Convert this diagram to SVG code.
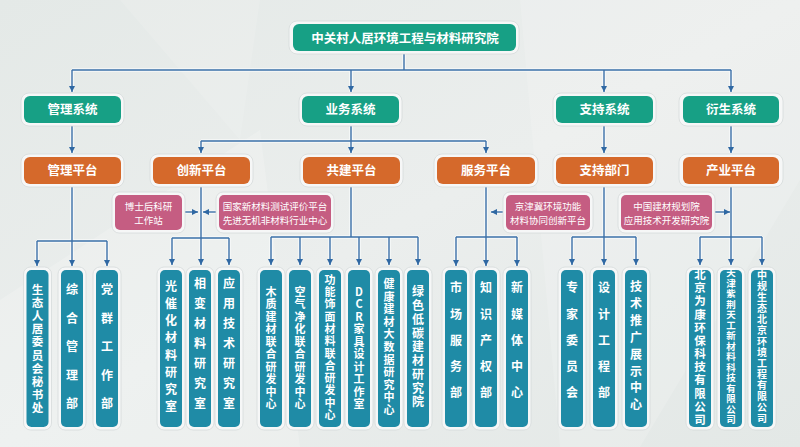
<svg xmlns="http://www.w3.org/2000/svg" width="800" height="447" viewBox="0 0 800 447">
<defs>
<linearGradient id="bg" x1="0" y1="0" x2="1" y2="1">
<stop offset="0" stop-color="#e4e9e7"/>
<stop offset="0.5" stop-color="#ebeeed"/>
<stop offset="1" stop-color="#e3e8e6"/>
</linearGradient>
<marker id="ah" viewBox="0 0 6 6" refX="6" refY="3" markerWidth="6" markerHeight="6" markerUnits="userSpaceOnUse" orient="auto">
<path d="M0,0 L6,3 L0,6 z" fill="#2f68a3"/>
</marker>
<style>
.sh{fill:#f6f7f7;stroke:#d6dbda;stroke-width:0.8}
.g{fill:#17a085}
.o{fill:#d5692b}
.p{fill:#c55d82}
.t{fill:#1f8ba6}
.tt{font-family:"Noto Sans CJK SC","Noto Sans",sans-serif;font-weight:bold;fill:#fff;text-anchor:middle;font-size:12.5px}
.pt{font-family:"Noto Sans CJK SC","Noto Sans",sans-serif;fill:#fff;text-anchor:middle;font-size:9.5px}
.vt{font-family:"Noto Sans CJK SC","Noto Sans",sans-serif;font-weight:bold;fill:#fff;text-anchor:middle;font-size:12px}
.s11{font-size:11px}
.s115{font-size:11.5px}
.s10{font-size:10px}
.s95{font-size:9.5px}
.ln{fill:none;stroke:#f7f9f9;stroke-width:3.6}
.lb{fill:none;stroke:#3b70a8;stroke-width:1.4}
</style>
</defs>
<rect width="800" height="447" fill="url(#bg)"/>
<polygon points="0,300 260,130 300,447 0,447" fill="#ffffff" opacity="0.18"/>
<polygon points="520,0 800,0 800,180 640,447 560,447" fill="#ffffff" opacity="0.15"/>
<polygon points="120,0 260,0 240,140" fill="#ffffff" opacity="0.12"/>

<g id="connectors">
<g class="ln">
<path d="M404,54V70M72,70H731M72,70V92M351,70V92M604,70V92M731,70V92"/>
<path d="M72,126V153M351,126V141M201,141H486M201,141V153M351,141V153M486,141V153M604,126V153M731,126V153"/>
<path d="M72,187V241M37,241H107M37,241V266M72,241V266M107,241V266"/>
<path d="M201,187V238M172,238H229M172,238V265M201,238V265M229,238V265"/>
<path d="M351,187V237M271,237H418M271,237V265M300,237V265M330,237V265M359,237V265M389,237V265M418,237V265"/>
<path d="M486,187V237M456,237H517M456,237V266M486,237V266M517,237V266"/>
<path d="M604,187V237M572,237H636M572,237V265M604,237V265M636,237V265"/>
<path d="M731,187V237M700,237H762M700,237V265M731,237V265M762,237V265"/>
<path d="M185,212H198M216,212H203M503,212H491M715,212H730"/>
</g>
<g class="lb">
<path d="M404,54V70M72,70H731"/>
<path d="M72,70V92" marker-end="url(#ah)"/><path d="M351,70V92" marker-end="url(#ah)"/><path d="M604,70V92" marker-end="url(#ah)"/><path d="M731,70V92" marker-end="url(#ah)"/>
<path d="M72,126V153" marker-end="url(#ah)"/>
<path d="M351,126V141M201,141H486"/>
<path d="M201,141V153" marker-end="url(#ah)"/>
<path d="M351,141V153" marker-end="url(#ah)"/>
<path d="M486,141V153" marker-end="url(#ah)"/>
<path d="M604,126V153" marker-end="url(#ah)"/>
<path d="M731,126V153" marker-end="url(#ah)"/>
<path d="M72,187V241M37,241H107"/>
<path d="M37,241V266" marker-end="url(#ah)"/><path d="M72,241V266" marker-end="url(#ah)"/><path d="M107,241V266" marker-end="url(#ah)"/>
<path d="M201,187V238M172,238H229"/>
<path d="M172,238V265" marker-end="url(#ah)"/><path d="M201,238V265" marker-end="url(#ah)"/><path d="M229,238V265" marker-end="url(#ah)"/>
<path d="M351,187V237M271,237H418"/>
<path d="M271,237V265" marker-end="url(#ah)"/><path d="M300,237V265" marker-end="url(#ah)"/><path d="M330,237V265" marker-end="url(#ah)"/><path d="M359,237V265" marker-end="url(#ah)"/><path d="M389,237V265" marker-end="url(#ah)"/><path d="M418,237V265" marker-end="url(#ah)"/>
<path d="M486,187V237M456,237H517"/>
<path d="M456,237V266" marker-end="url(#ah)"/><path d="M486,237V266" marker-end="url(#ah)"/><path d="M517,237V266" marker-end="url(#ah)"/>
<path d="M604,187V237M572,237H636"/>
<path d="M572,237V265" marker-end="url(#ah)"/><path d="M604,237V265" marker-end="url(#ah)"/><path d="M636,237V265" marker-end="url(#ah)"/>
<path d="M731,187V237M700,237H762"/>
<path d="M700,237V265" marker-end="url(#ah)"/><path d="M731,237V265" marker-end="url(#ah)"/><path d="M762,237V265" marker-end="url(#ah)"/>
<path d="M185,212H198" marker-end="url(#ah)"/>
<path d="M216,212H203" marker-end="url(#ah)"/>
<path d="M503,212H491" marker-end="url(#ah)"/>
<path d="M715,212H730" marker-end="url(#ah)"/>
</g>
</g>

<g id="root"><rect class="sh" x="289" y="21" width="230" height="33" rx="8"/><rect class="g" x="293" y="24" width="223" height="27" rx="6"/><text class="tt" x="405" y="42.5">中关村人居环境工程与材料研究院</text></g>

<g id="sys-guanli"><rect class="sh" x="21" y="93" width="103" height="33" rx="8"/><rect class="g" x="24" y="96" width="97" height="27" rx="6"/><text class="tt" x="72.5" y="114">管理系统</text></g>
<g id="sys-yewu"><rect class="sh" x="299" y="93" width="103" height="33" rx="8"/><rect class="g" x="302" y="96" width="97" height="27" rx="6"/><text class="tt" x="350.5" y="114">业务系统</text></g>
<g id="sys-zhichi"><rect class="sh" x="553" y="93" width="103" height="33" rx="8"/><rect class="g" x="556" y="96" width="97" height="27" rx="6"/><text class="tt" x="604.5" y="114">支持系统</text></g>
<g id="sys-yansheng"><rect class="sh" x="679" y="93" width="104" height="33" rx="8"/><rect class="g" x="683" y="96" width="96" height="27" rx="6"/><text class="tt" x="731" y="114">衍生系统</text></g>

<g id="plat-guanli"><rect class="sh" x="21" y="154" width="103" height="33" rx="8"/><rect class="o" x="24" y="157" width="97" height="27" rx="6"/><text class="tt" x="72.5" y="175">管理平台</text></g>
<g id="plat-chuangxin"><rect class="sh" x="150" y="154" width="103" height="33" rx="8"/><rect class="o" x="153" y="157" width="97" height="27" rx="6"/><text class="tt" x="201.5" y="175">创新平台</text></g>
<g id="plat-gongjian"><rect class="sh" x="300" y="154" width="103" height="33" rx="8"/><rect class="o" x="303" y="157" width="97" height="27" rx="6"/><text class="tt" x="351.5" y="175">共建平台</text></g>
<g id="plat-fuwu"><rect class="sh" x="434" y="154" width="104" height="33" rx="8"/><rect class="o" x="437" y="157" width="98" height="27" rx="6"/><text class="tt" x="486" y="175">服务平台</text></g>
<g id="plat-zhichi"><rect class="sh" x="553" y="154" width="103" height="33" rx="8"/><rect class="o" x="556" y="157" width="97" height="27" rx="6"/><text class="tt" x="604.5" y="175">支持部门</text></g>
<g id="plat-chanye"><rect class="sh" x="679" y="154" width="104" height="33" rx="8"/><rect class="o" x="683" y="157" width="96" height="27" rx="6"/><text class="tt" x="731" y="175">产业平台</text></g>

<g id="pink-boshihou"><rect class="sh" x="112" y="192" width="73" height="41" rx="7"/><rect class="p" x="115" y="195" width="67" height="35" rx="5"/><text class="pt" x="148.5" y="209.5">博士后科研</text><text class="pt" x="148.5" y="223.5">工作站</text></g>
<g id="pink-guojia"><rect class="sh" x="216" y="192" width="118" height="41" rx="7"/><rect class="p" x="219" y="195" width="112" height="35" rx="5"/><text class="pt" x="275" y="209.5">国家新材料测试评价平台</text><text class="pt" x="275" y="223.5">先进无机非材料行业中心</text></g>
<g id="pink-jingjinji"><rect class="sh" x="503" y="192" width="90" height="41" rx="7"/><rect class="p" x="506" y="195" width="84" height="35" rx="5"/><text class="pt" x="548" y="209.5">京津冀环境功能</text><text class="pt" x="548" y="223.5">材料协同创新平台</text></g>
<g id="pink-zhongguo"><rect class="sh" x="618" y="192" width="97" height="41" rx="7"/><rect class="p" x="621" y="195" width="91" height="35" rx="5"/><text class="pt" x="666.5" y="209.5">中国建材规划院</text><text class="pt" x="666.5" y="223.5">应用技术开发研究院</text></g>

<g id="b1"><rect class="sh" x="23.5" y="267" width="28" height="163" rx="7"/><rect class="t" x="26.5" y="270" width="22" height="157" rx="5"/><text class="vt s115"><tspan x="37.5" y="294">生</tspan><tspan x="37.5" y="307.1">态</tspan><tspan x="37.5" y="320.2">人</tspan><tspan x="37.5" y="333.3">居</tspan><tspan x="37.5" y="346.4">委</tspan><tspan x="37.5" y="359.5">员</tspan><tspan x="37.5" y="372.6">会</tspan><tspan x="37.5" y="385.7">秘</tspan><tspan x="37.5" y="398.8">书</tspan><tspan x="37.5" y="411.9">处</tspan></text></g>
<g id="b2"><rect class="sh" x="58" y="267" width="28" height="163" rx="7"/><rect class="t" x="61" y="270" width="22" height="157" rx="5"/><text class="vt"><tspan x="72" y="294.2">综</tspan><tspan x="72" y="322.7">合</tspan><tspan x="72" y="351.2">管</tspan><tspan x="72" y="379.7">理</tspan><tspan x="72" y="408.2">部</tspan></text></g>
<g id="b3"><rect class="sh" x="93" y="267" width="28" height="163" rx="7"/><rect class="t" x="96" y="270" width="22" height="157" rx="5"/><text class="vt"><tspan x="107" y="294.2">党</tspan><tspan x="107" y="322.7">群</tspan><tspan x="107" y="351.2">工</tspan><tspan x="107" y="379.7">作</tspan><tspan x="107" y="408.2">部</tspan></text></g>
<g id="b4"><rect class="sh" x="157" y="267" width="28" height="163" rx="7"/><rect class="t" x="160" y="270" width="22" height="157" rx="5"/><text class="vt"><tspan x="171" y="291">光</tspan><tspan x="171" y="308">催</tspan><tspan x="171" y="325">化</tspan><tspan x="171" y="342">材</tspan><tspan x="171" y="360">料</tspan><tspan x="171" y="377">研</tspan><tspan x="171" y="394">究</tspan><tspan x="171" y="411">室</tspan></text></g>
<g id="b5"><rect class="sh" x="186" y="267" width="28" height="163" rx="7"/><rect class="t" x="189" y="270" width="22" height="157" rx="5"/><text class="vt"><tspan x="200" y="288">相</tspan><tspan x="200" y="308">变</tspan><tspan x="200" y="328">材</tspan><tspan x="200" y="348">料</tspan><tspan x="200" y="368">研</tspan><tspan x="200" y="388">究</tspan><tspan x="200" y="408">室</tspan></text></g>
<g id="b6"><rect class="sh" x="215" y="267" width="28" height="163" rx="7"/><rect class="t" x="218" y="270" width="22" height="157" rx="5"/><text class="vt"><tspan x="229" y="288">应</tspan><tspan x="229" y="308">用</tspan><tspan x="229" y="328">技</tspan><tspan x="229" y="348">术</tspan><tspan x="229" y="368">研</tspan><tspan x="229" y="388">究</tspan><tspan x="229" y="408">室</tspan></text></g>
<g id="b7"><rect class="sh" x="257" y="267" width="28" height="163" rx="7"/><rect class="t" x="260" y="270" width="22" height="157" rx="5"/><text class="vt s11"><tspan x="271" y="295.9">木</tspan><tspan x="271" y="308.3">质</tspan><tspan x="271" y="320.8">建</tspan><tspan x="271" y="333.2">材</tspan><tspan x="271" y="345.7">联</tspan><tspan x="271" y="358.1">合</tspan><tspan x="271" y="370.6">研</tspan><tspan x="271" y="383">发</tspan><tspan x="271" y="395.5">中</tspan><tspan x="271" y="407.9">心</tspan></text></g>
<g id="b8"><rect class="sh" x="286" y="267" width="28" height="163" rx="7"/><rect class="t" x="289" y="270" width="22" height="157" rx="5"/><text class="vt s11"><tspan x="300" y="295.9">空</tspan><tspan x="300" y="308.3">气</tspan><tspan x="300" y="320.8">净</tspan><tspan x="300" y="333.2">化</tspan><tspan x="300" y="345.7">联</tspan><tspan x="300" y="358.1">合</tspan><tspan x="300" y="370.6">研</tspan><tspan x="300" y="383">发</tspan><tspan x="300" y="395.5">中</tspan><tspan x="300" y="407.9">心</tspan></text></g>
<g id="b9"><rect class="sh" x="316" y="267" width="28" height="163" rx="7"/><rect class="t" x="319" y="270" width="22" height="157" rx="5"/><text class="vt s11"><tspan x="330" y="283.9">功</tspan><tspan x="330" y="296.2">能</tspan><tspan x="330" y="308.4">饰</tspan><tspan x="330" y="320.7">面</tspan><tspan x="330" y="333">材</tspan><tspan x="330" y="345.3">料</tspan><tspan x="330" y="357.5">联</tspan><tspan x="330" y="369.8">合</tspan><tspan x="330" y="382.1">研</tspan><tspan x="330" y="394.4">发</tspan><tspan x="330" y="406.6">中</tspan><tspan x="330" y="418.9">心</tspan></text></g>
<g id="b10"><rect class="sh" x="345" y="267" width="28" height="163" rx="7"/><rect class="t" x="348" y="270" width="22" height="157" rx="5"/><text class="vt s11"><tspan x="359" y="295.9">D</tspan><tspan x="359" y="308.3">C</tspan><tspan x="359" y="320.8">R</tspan><tspan x="359" y="333.2">家</tspan><tspan x="359" y="345.7">具</tspan><tspan x="359" y="358.1">设</tspan><tspan x="359" y="370.6">计</tspan><tspan x="359" y="383">工</tspan><tspan x="359" y="395.5">作</tspan><tspan x="359" y="407.9">室</tspan></text></g>
<g id="b11"><rect class="sh" x="375" y="267" width="28" height="163" rx="7"/><rect class="t" x="378" y="270" width="22" height="157" rx="5"/><text class="vt s11"><tspan x="389" y="287.9">健</tspan><tspan x="389" y="300.5">康</tspan><tspan x="389" y="313.1">建</tspan><tspan x="389" y="325.7">材</tspan><tspan x="389" y="338.3">大</tspan><tspan x="389" y="350.9">数</tspan><tspan x="389" y="363.5">据</tspan><tspan x="389" y="376.1">研</tspan><tspan x="389" y="388.7">究</tspan><tspan x="389" y="401.3">中</tspan><tspan x="389" y="413.9">心</tspan></text></g>
<g id="b12"><rect class="sh" x="404" y="267" width="28" height="163" rx="7"/><rect class="t" x="407" y="270" width="22" height="157" rx="5"/><text class="vt"><tspan x="418" y="296.2">绿</tspan><tspan x="418" y="310">色</tspan><tspan x="418" y="323.7">低</tspan><tspan x="418" y="337.5">碳</tspan><tspan x="418" y="351.2">建</tspan><tspan x="418" y="365">材</tspan><tspan x="418" y="378.7">研</tspan><tspan x="418" y="392.5">究</tspan><tspan x="418" y="406.2">院</tspan></text></g>
<g id="b13"><rect class="sh" x="442" y="267" width="28" height="163" rx="7"/><rect class="t" x="445" y="270" width="22" height="157" rx="5"/><text class="vt"><tspan x="456" y="292.2">市</tspan><tspan x="456" y="318.5">场</tspan><tspan x="456" y="344.7">服</tspan><tspan x="456" y="371">务</tspan><tspan x="456" y="397.2">部</tspan></text></g>
<g id="b14"><rect class="sh" x="472" y="267" width="28" height="163" rx="7"/><rect class="t" x="475" y="270" width="22" height="157" rx="5"/><text class="vt"><tspan x="486" y="292.2">知</tspan><tspan x="486" y="318.5">识</tspan><tspan x="486" y="344.7">产</tspan><tspan x="486" y="371">权</tspan><tspan x="486" y="397.2">部</tspan></text></g>
<g id="b15"><rect class="sh" x="503" y="267" width="28" height="163" rx="7"/><rect class="t" x="506" y="270" width="22" height="157" rx="5"/><text class="vt"><tspan x="517" y="292.2">新</tspan><tspan x="517" y="318.5">媒</tspan><tspan x="517" y="344.7">体</tspan><tspan x="517" y="371">中</tspan><tspan x="517" y="397.2">心</tspan></text></g>
<g id="b16"><rect class="sh" x="558" y="267" width="28" height="163" rx="7"/><rect class="t" x="561" y="270" width="22" height="157" rx="5"/><text class="vt"><tspan x="572" y="292.2">专</tspan><tspan x="572" y="318.5">家</tspan><tspan x="572" y="344.7">委</tspan><tspan x="572" y="371">员</tspan><tspan x="572" y="397.2">会</tspan></text></g>
<g id="b17"><rect class="sh" x="590" y="267" width="28" height="163" rx="7"/><rect class="t" x="593" y="270" width="22" height="157" rx="5"/><text class="vt"><tspan x="604" y="292.2">设</tspan><tspan x="604" y="318.5">计</tspan><tspan x="604" y="344.7">工</tspan><tspan x="604" y="371">程</tspan><tspan x="604" y="397.2">部</tspan></text></g>
<g id="b18"><rect class="sh" x="622" y="267" width="28" height="163" rx="7"/><rect class="t" x="625" y="270" width="22" height="157" rx="5"/><text class="vt"><tspan x="636" y="291.2">技</tspan><tspan x="636" y="308.1">术</tspan><tspan x="636" y="324.9">推</tspan><tspan x="636" y="341.8">广</tspan><tspan x="636" y="358.6">展</tspan><tspan x="636" y="375.5">示</tspan><tspan x="636" y="392.3">中</tspan><tspan x="636" y="409.2">心</tspan></text></g>
<g id="b19"><rect class="sh" x="686" y="267" width="28" height="163" rx="7"/><rect class="t" x="689" y="270" width="22" height="157" rx="5"/><text class="vt s115"><tspan x="700" y="279">北</tspan><tspan x="700" y="292.2">京</tspan><tspan x="700" y="305.4">为</tspan><tspan x="700" y="318.5">康</tspan><tspan x="700" y="331.7">环</tspan><tspan x="700" y="344.9">保</tspan><tspan x="700" y="358.1">科</tspan><tspan x="700" y="371.3">技</tspan><tspan x="700" y="384.4">有</tspan><tspan x="700" y="397.6">限</tspan><tspan x="700" y="410.8">公</tspan><tspan x="700" y="424">司</tspan></text></g>
<g id="b20"><rect class="sh" x="717" y="267" width="28" height="163" rx="7"/><rect class="t" x="720" y="270" width="22" height="157" rx="5"/><text class="vt s95"><tspan x="731" y="276.3">天</tspan><tspan x="731" y="286.8">津</tspan><tspan x="731" y="297.3">紫</tspan><tspan x="731" y="307.8">荆</tspan><tspan x="731" y="318.3">天</tspan><tspan x="731" y="328.8">工</tspan><tspan x="731" y="339.3">新</tspan><tspan x="731" y="349.8">材</tspan><tspan x="731" y="360.3">料</tspan><tspan x="731" y="370.8">科</tspan><tspan x="731" y="381.3">技</tspan><tspan x="731" y="391.8">有</tspan><tspan x="731" y="402.3">限</tspan><tspan x="731" y="412.8">公</tspan><tspan x="731" y="423.3">司</tspan></text></g>
<g id="b21"><rect class="sh" x="748" y="267" width="28" height="163" rx="7"/><rect class="t" x="751" y="270" width="22" height="157" rx="5"/><text class="vt s10"><tspan x="762" y="278.5">中</tspan><tspan x="762" y="289.5">规</tspan><tspan x="762" y="300.5">生</tspan><tspan x="762" y="311.5">态</tspan><tspan x="762" y="322.5">北</tspan><tspan x="762" y="333.5">京</tspan><tspan x="762" y="344.5">环</tspan><tspan x="762" y="355.5">境</tspan><tspan x="762" y="366.5">工</tspan><tspan x="762" y="377.5">程</tspan><tspan x="762" y="388.5">有</tspan><tspan x="762" y="399.5">限</tspan><tspan x="762" y="410.5">公</tspan><tspan x="762" y="421.5">司</tspan></text></g>
</svg>
